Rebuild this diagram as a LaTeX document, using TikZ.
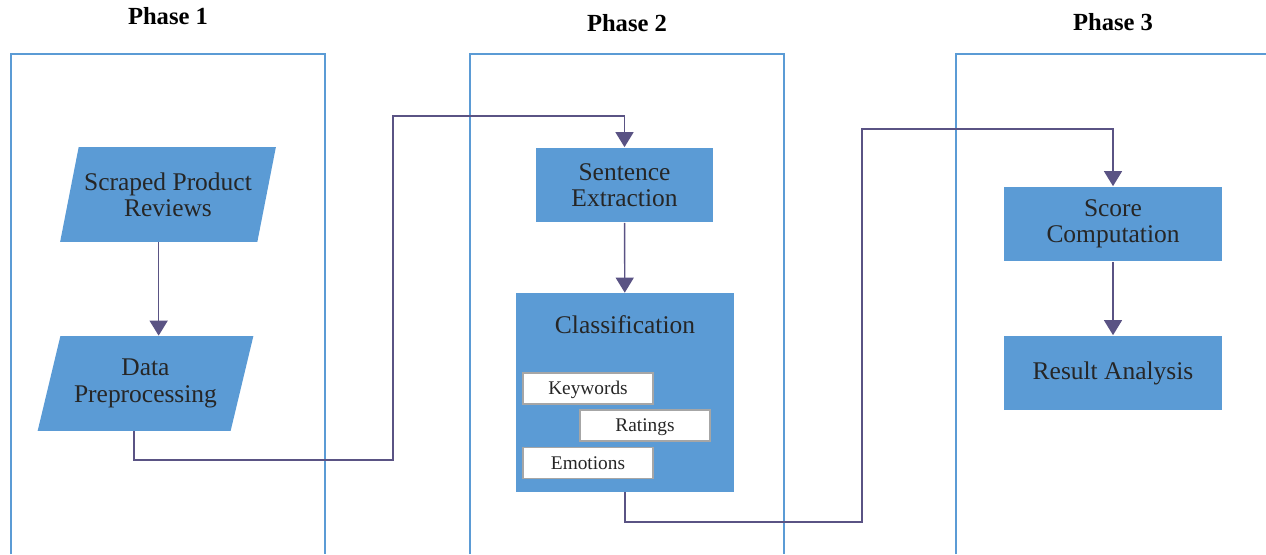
\documentclass[tikz,border=0pt]{standalone}
\usepackage{fontspec}
\setmainfont{Liberation Serif}
\usetikzlibrary{shapes.geometric,arrows.meta}

\definecolor{boxblue}{HTML}{5B9BD5}
\definecolor{frameblue}{HTML}{5B9BD5}
\definecolor{flowline}{HTML}{5A5384}
\definecolor{inktext}{HTML}{262626}

\begin{document}
\begin{tikzpicture}[x=0.02cm, y=-0.02cm, line join=miter,
    frame/.style={draw=frameblue, line width=0.6pt},
    phase/.style={font=\fontsize{14}{16}\selectfont\bfseries},
    procbox/.style={rectangle, fill=boxblue, text=inktext, align=center,
      font=\fontsize{14.5}{15}\selectfont, minimum width=4.36cm, minimum height=1.5cm, inner sep=0pt},
    databox/.style={trapezium, trapezium left angle=68.5, trapezium right angle=111.5,
      trapezium stretches=true, fill=boxblue, text=inktext, align=center,
      font=\fontsize{14.5}{15}\selectfont, minimum width=4.32cm, minimum height=1.9cm, inner sep=0pt},
    tagbox/.style={rectangle, draw=gray!70, line width=1pt, fill=white, text=inktext,
      font=\fontsize{11}{13}\selectfont, minimum width=2.6cm, minimum height=0.62cm, inner sep=0pt,
      text height=1.6ex, text depth=0pt},
    flow/.style={draw=flowline, line width=0.8pt, -{Triangle[width=0.36cm, length=0.3cm]}}]
    \useasboundingbox (0,0) rectangle (1266,554);

    % Phase frames
    \foreach \l/\r in {11/325, 470/784}
      \draw[frame] (\l,554) -- (\l,54) -- (\r,54) -- (\r,554);
    \draw[frame] (956,554) -- (956,54) -- (1266,54);

    \node[phase] (ph1) at (168,16) {Phase 1};
    \node[phase] (ph2) at (627,23) {Phase 2};
    \node[phase] (ph3) at (1113,22) {Phase 3};

    % Phase 1
    \node[databox] (spr) at (168,194.5) {Scraped Product\\Reviews};
    \node[databox] (dp) at (145.5,383.5) {Data\\Preprocessing};

    % Phase 2
    \node[procbox, minimum width=3.54cm] (se) at (624.5,185) {Sentence\\Extraction};
    \node[procbox, minimum height=3.98cm] (cls) at (625,392.5) {};
    \node[text=inktext, font=\fontsize{14.5}{15}\selectfont] (clstitle) at (625,325) {Classification};
    \node[tagbox] (kw) at (588,388.5) {Keywords};
    \node[tagbox] (rat) at (645,425.5) {Ratings};
    \node[tagbox] (emo) at (588,463) {Emotions};

    % Phase 3
    \node[procbox] (score) at (1113,224) {Score\\Computation};
    \node[procbox] (res) at (1113,373) {Result Analysis};

    % Bends
    \coordinate (b1) at (393,460);
    \coordinate (b2) at (393,116);
    \coordinate (c1) at (862,522);
    \coordinate (c2) at (862,129);

    % Connections
    \draw[flow] (spr.bottom side) -- (spr.bottom side |- dp.top side);
    \draw[flow] (dp.bottom side) |- (b1) -- (b2) -| (se.north);
    \draw[flow] (se) -- (cls);
    \draw[flow] (cls.south) |- (c1) -- (c2) -| (score.north);
    \draw[flow] (score) -- (res);
\end{tikzpicture}
\end{document}
